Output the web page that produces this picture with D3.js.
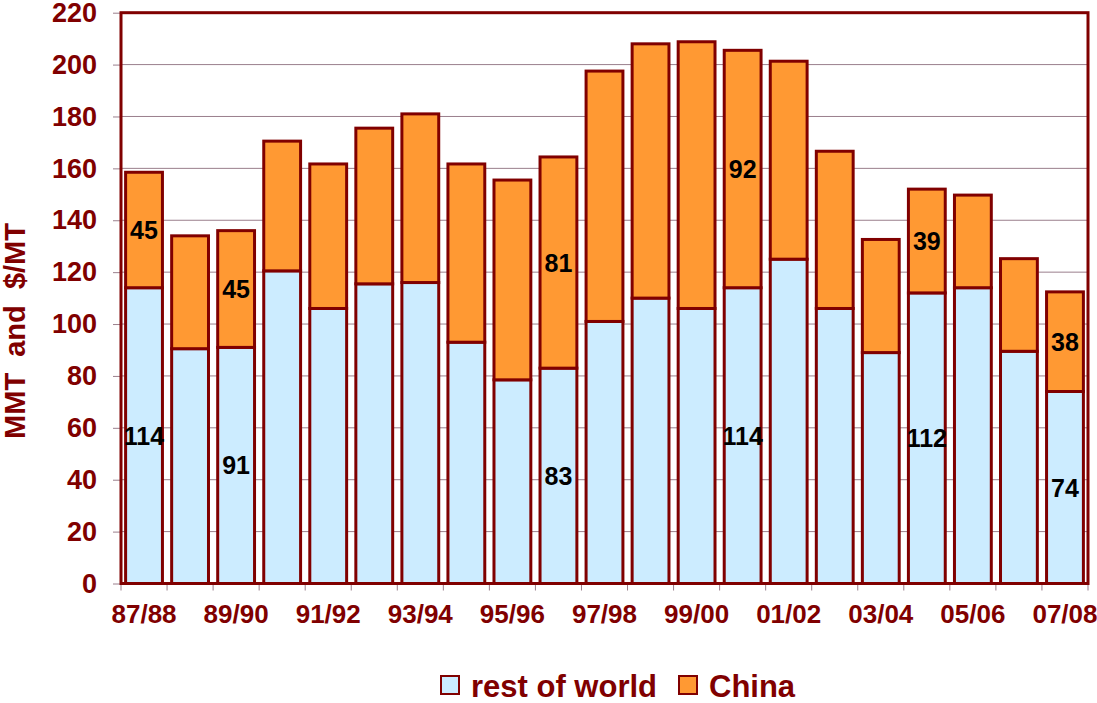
<!DOCTYPE html>
<html>
<head>
<meta charset="utf-8">
<script src="https://cdn.jsdelivr.net/npm/d3@7"></script>
<style>
  body { margin: 0; background: #fff; }
  text { font-family: Arial, "Liberation Sans", sans-serif; font-weight: bold; }
</style>
</head>
<body>
<div id="chart"></div>
<script>
// Crop years
const seasons = ['87/88', '88/89', '89/90', '90/91', '91/92', '92/93', '93/94', '94/95',
    '95/96', '96/97', '97/98', '98/99', '99/00', '00/01', '01/02', '02/03', '03/04',
    '04/05', '05/06', '06/07', '07/08'];

// Stacked values
const restOfWorld = [114, 90.5, 91, 120.5, 106, 115.5, 116, 93, 78.5, 83, 101, 110, 106, 114,
    125, 106, 89, 112, 114, 89.5, 74];
const china = [44.5, 43.5, 45, 50, 55.7, 60, 65, 68.7, 77, 81.4, 96.5, 98, 102.8, 91.5, 76.3,
    60.6, 43.6, 40, 35.7, 35.7, 38.4];

// Value labels printed on some bars
const rowLabels = { 0: '114', 2: '91', 9: '83', 13: '114', 17: '112', 20: '74' };
const chinaLabels = { 0: '45', 2: '45', 9: '81', 13: '92', 17: '39', 20: '38' };

const yTicks = d3.range(0, 221, 20);

const width = 1097;
const height = 703;
const margin = { top: 12.7, right: 9, bottom: 119.5, left: 121 };

const darkRed = '#800000';
const blue = '#CCECFF';
const orange = '#FF9933';

const svg = d3.select('#chart')
    .append('svg')
    .attr('width', width)
    .attr('height', height);

const x = d3.scaleBand()
    .domain(seasons)
    .range([margin.left, width - margin.right])
    .paddingInner(0.2)
    .paddingOuter(0.1);

const y = d3.scaleLinear()
    .domain([0, 220])
    .range([height - margin.bottom, margin.top]);

// Gridlines
svg.append('g')
    .selectAll('line')
    .data(yTicks.slice(1, -1))
    .join('line')
    .attr('x1', margin.left)
    .attr('x2', width - margin.right)
    .attr('y1', d => y(d))
    .attr('y2', d => y(d))
    .attr('stroke', '#9a7f8c')
    .attr('stroke-width', 1);

// Y axis
const yAxis = svg.append('g')
    .attr('transform', `translate(${margin.left},0)`)
    .call(d3.axisLeft(y).tickValues(yTicks).tickSize(8).tickPadding(16));
yAxis.select('.domain').remove();
yAxis.selectAll('.tick line').attr('stroke', '#9a7f8c');
yAxis.selectAll('.tick text')
    .attr('fill', darkRed)
    .attr('font-size', 27)
    .attr('font-family', 'Arial, "Liberation Sans", sans-serif')
    .attr('font-weight', 'bold');

// X axis ticks at the category boundaries
const step = x.step();
const boundaries = seasons.map(d => x(d) - step * x.paddingOuter()).concat([width - margin.right]);
svg.append('g')
    .selectAll('line')
    .data(boundaries)
    .join('line')
    .attr('x1', d => d)
    .attr('x2', d => d)
    .attr('y1', y(0))
    .attr('y2', y(0) + 7)
    .attr('stroke', '#9a7f8c');

svg.append('g')
    .selectAll('text')
    .data(seasons.filter((d, i) => i % 2 === 0))
    .join('text')
    .attr('x', d => x(d) + x.bandwidth() / 2)
    .attr('y', 623)
    .attr('text-anchor', 'middle')
    .attr('fill', darkRed)
    .attr('font-size', 26)
    .text(d => d);

// Bars
const bars = svg.append('g');
seasons.forEach((s, i) => {
    bars.append('rect')
        .attr('x', x(s))
        .attr('width', x.bandwidth())
        .attr('y', y(restOfWorld[i]))
        .attr('height', y(0) - y(restOfWorld[i]))
        .attr('fill', blue)
        .attr('stroke', darkRed)
        .attr('stroke-width', 3);
    bars.append('rect')
        .attr('x', x(s))
        .attr('width', x.bandwidth())
        .attr('y', y(restOfWorld[i] + china[i]))
        .attr('height', y(restOfWorld[i]) - y(restOfWorld[i] + china[i]))
        .attr('fill', orange)
        .attr('stroke', darkRed)
        .attr('stroke-width', 3);
});

// Plot frame
svg.append('rect')
    .attr('x', margin.left)
    .attr('y', margin.top)
    .attr('width', width - margin.left - margin.right)
    .attr('height', y(0) - margin.top)
    .attr('fill', 'none')
    .attr('stroke', darkRed)
    .attr('stroke-width', 3);

// Value labels in the middle of their segment
const labels = svg.append('g')
    .attr('font-size', 25)
    .attr('fill', '#000')
    .attr('text-anchor', 'middle');
Object.keys(rowLabels).forEach(k => {
    const i = +k;
    labels.append('text')
        .attr('x', x(seasons[i]) + x.bandwidth() / 2)
        .attr('y', y(restOfWorld[i] / 2))
        .attr('dy', '0.36em')
        .text(rowLabels[k]);
});
Object.keys(chinaLabels).forEach(k => {
    const i = +k;
    labels.append('text')
        .attr('x', x(seasons[i]) + x.bandwidth() / 2)
        .attr('y', y(restOfWorld[i] + china[i] / 2))
        .attr('dy', '0.36em')
        .text(chinaLabels[k]);
});

// Y axis title
svg.append('text')
    .attr('transform', 'translate(25,331) rotate(-90)')
    .attr('text-anchor', 'middle')
    .attr('fill', darkRed)
    .attr('font-size', 29)
    .style('white-space', 'pre')
    .text('MMT  and  $/MT');

// Legend
const legend = svg.append('g');
const legendItems = [
    { name: 'rest of world', color: blue, x: 441 },
    { name: 'China', color: orange, x: 679 }
];
legendItems.forEach(item => {
    legend.append('rect')
        .attr('x', item.x)
        .attr('y', 676)
        .attr('width', 18)
        .attr('height', 18)
        .attr('fill', item.color)
        .attr('stroke', darkRed)
        .attr('stroke-width', 2);
    legend.append('text')
        .attr('x', item.x + 30)
        .attr('y', 697)
        .attr('fill', darkRed)
        .attr('font-size', 31)
        .text(item.name);
});
</script>
</body>
</html>
